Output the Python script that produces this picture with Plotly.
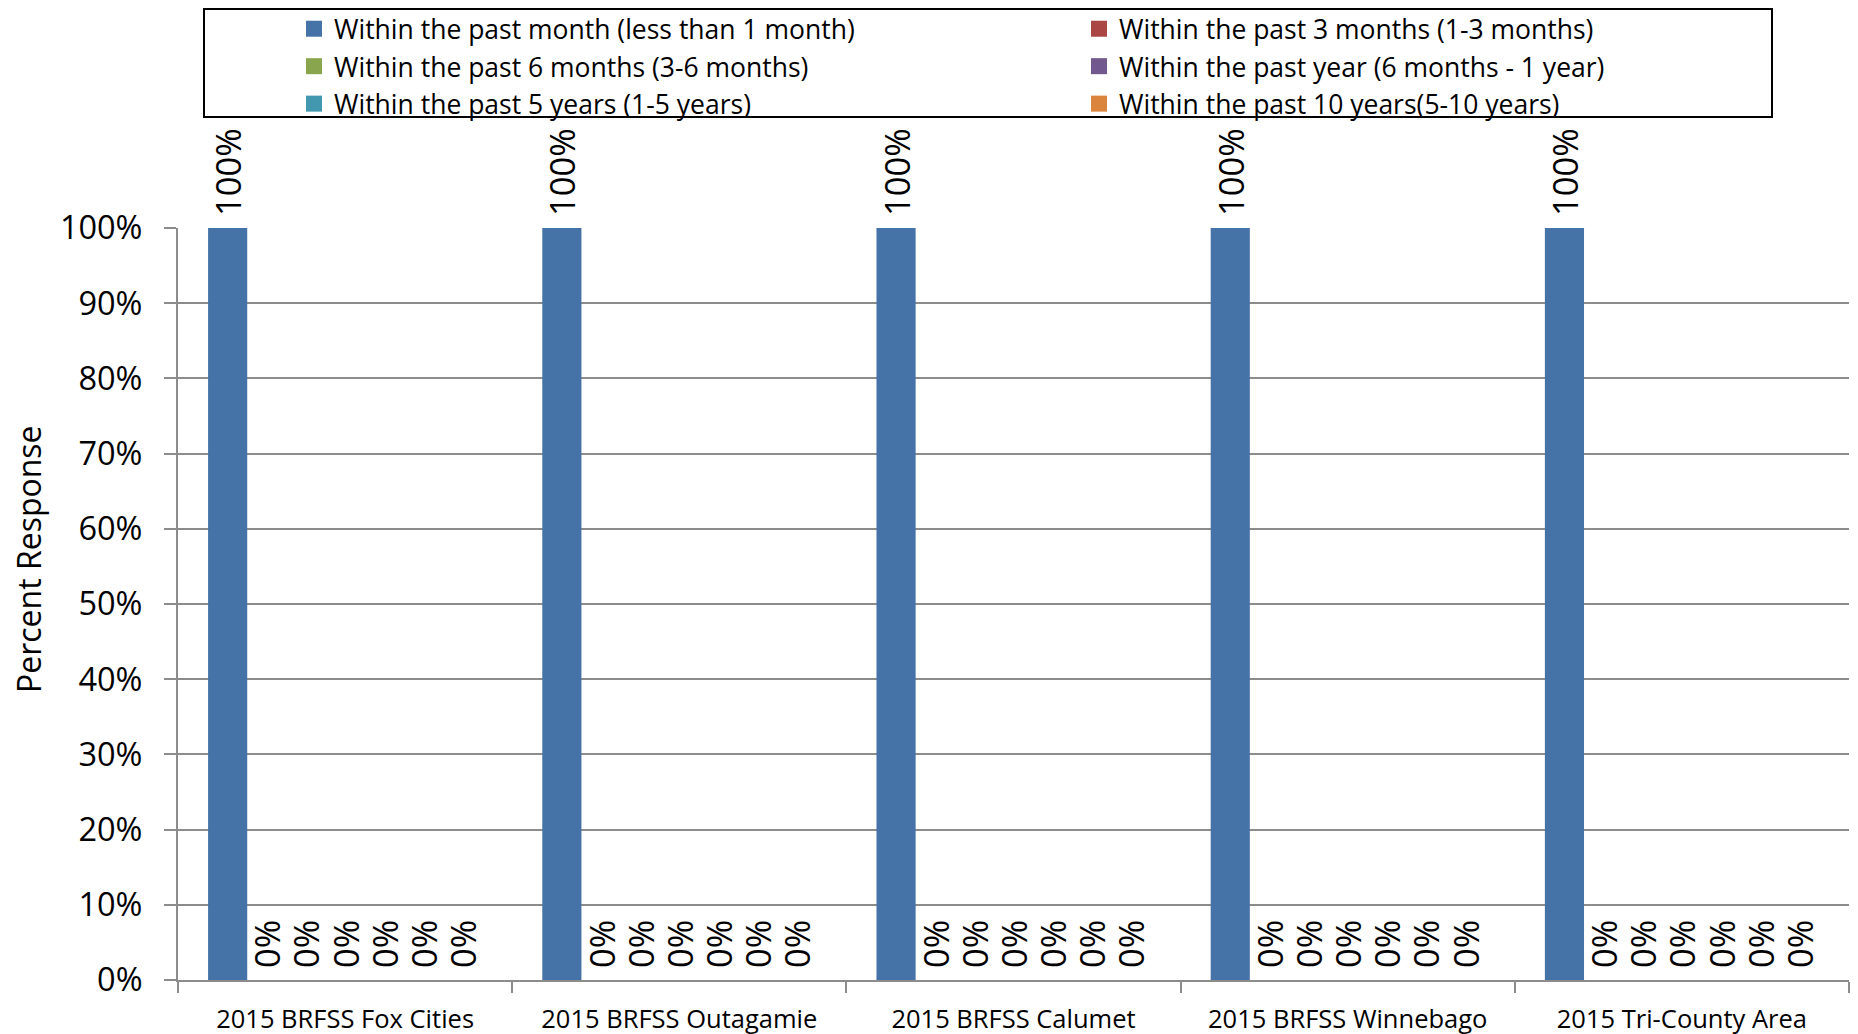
'''Recent time period of response, by county (2015 BRFSS)'''

import plotly.graph_objects as go

categories = ['2015 BRFSS Fox Cities', '2015 BRFSS Outagamie', '2015 BRFSS Calumet',
              '2015 BRFSS Winnebago', '2015 Tri-County Area']

series_names = ['Within the past month (less than 1 month)',
                'Within the past 3 months (1-3 months)',
                'Within the past 6 months (3-6 months)',
                'Within the past year (6 months - 1 year)',
                'Within the past 5 years (1-5 years)',
                'Within the past 10 years(5-10 years)',
                '10 or more years ago']

past_month = [1.0, 1.0, 1.0, 1.0, 1.0]
past_3_months = [0, 0, 0, 0, 0]
past_6_months = [0, 0, 0, 0, 0]
past_year = [0, 0, 0, 0, 0]
past_5_years = [0, 0, 0, 0, 0]
past_10_years = [0, 0, 0, 0, 0]
ten_plus_years = [0, 0, 0, 0, 0]

values = [past_month, past_3_months, past_6_months, past_year,
          past_5_years, past_10_years, ten_plus_years]
colors = ['#4673A7', '#AA4643', '#89A54E', '#71588F', '#4198AF', '#DB843D', '#93A9CF']

FONT = 'Open Sans'
GRID = '#8C8C8C'

fig = go.Figure()
for name, vals, color in zip(series_names, values, colors):
    fig.add_trace(go.Bar(
        x=categories, y=vals, name=name,
        marker=dict(color=color, line=dict(width=0)),
        texttemplate='\u00a0%{y:.0%}', textposition='outside', textangle=-90,
        textfont=dict(family=FONT, size=34.5, color='black'),
        constraintext='none', cliponaxis=False, showlegend=False,
    ))

# legend entries as square markers (the last series has no legend entry)
for name, color in zip(series_names[:6], colors[:6]):
    fig.add_trace(go.Scatter(
        x=[None], y=[None], mode='markers', name=name,
        marker=dict(size=16, color=color, symbol='square'),
    ))

# page body has an 8px margin, so the figure is drawn 8px in from the window edge
W, H = 1850, 1026
ml, mr, mt, mb = 170, 9, 220, 54
plot_w = W - ml - mr
plot_h = H - mt - mb

def px_x(p):
    return (p - ml) / plot_w

def px_y(p):
    return 1 + (mt - p) / plot_h

fig.update_layout(
    width=W, height=H,
    margin=dict(l=ml, r=mr, t=mt, b=mb, autoexpand=False),
    paper_bgcolor='white', plot_bgcolor='white',
    barmode='group', bargap=0.18, bargroupgap=0,
    font=dict(family=FONT, color='black'),
    legend=dict(orientation='h', x=px_x(286), y=px_y(-3), xanchor='left', yanchor='top',
                entrywidth=740, entrywidthmode='pixels',
                font=dict(family=FONT, size=26.5), bgcolor='rgba(0,0,0,0)',
                traceorder='normal'),
    shapes=[dict(type='rect', xref='paper', yref='paper',
                 x0=px_x(196), x1=px_x(1764), y0=px_y(109), y1=px_y(1),
                 line=dict(color='black', width=2), layer='below')],
    annotations=[dict(text='Percent Response', textangle=-90, showarrow=False,
                      xref='paper', yref='paper', x=px_x(20), y=px_y(551),
                      xanchor='center', yanchor='middle',
                      font=dict(family=FONT, size=32))],
    yaxis=dict(range=[0, 1], dtick=0.1, tickformat='.0%',
               showgrid=True, gridcolor=GRID, gridwidth=1.5,
               showline=True, linecolor=GRID, linewidth=2,
               ticks='outside', ticklen=12, tickcolor=GRID, tickwidth=1.5,
               ticklabelstandoff=15,
               tickfont=dict(family=FONT, size=32.5), zeroline=False),
    xaxis=dict(showline=True, linecolor=GRID, linewidth=2,
               tickson='boundaries', ticks='outside', ticklen=11,
               tickcolor=GRID, tickwidth=1.5, ticklabelstandoff=15,
               tickfont=dict(family=FONT, size=25.5)),
)

fig.write_html('out.html')
